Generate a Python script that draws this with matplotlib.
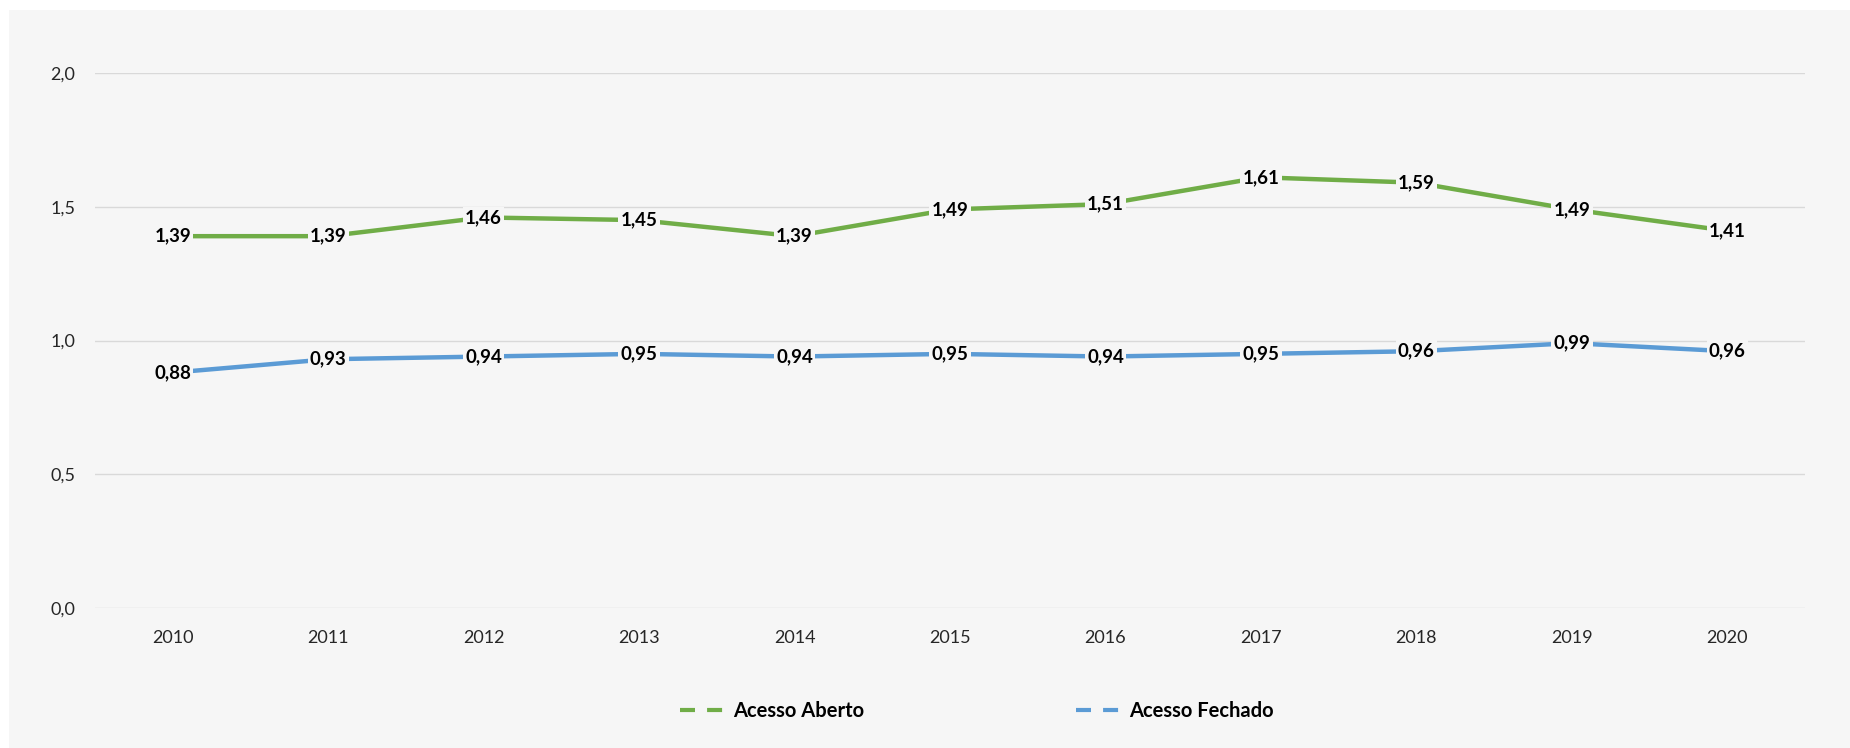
import matplotlib
matplotlib.use('Agg')
import matplotlib.pyplot as plt
from matplotlib.lines import Line2D

anos = ['2010', '2011', '2012', '2013', '2014', '2015', '2016', '2017', '2018', '2019', '2020']
aberto = [1.39, 1.39, 1.46, 1.45, 1.39, 1.49, 1.51, 1.61, 1.59, 1.49, 1.41]
fechado = [0.88, 0.93, 0.94, 0.95, 0.94, 0.95, 0.94, 0.95, 0.96, 0.99, 0.96]
yticks = [0.0, 0.5, 1.0, 1.5, 2.0]

verde = '#70ad47'
azul = '#5b9bd5'
fundo = '#f6f6f6'

plt.rcParams['font.family'] = ['Lato', 'DejaVu Sans']

fig = plt.figure(figsize=(18.5, 7.48), dpi=100)
fig.patch.set_facecolor('white')
# painel cinza claro atras de tudo
fig.patches.append(plt.Rectangle((9/1850, 0), 1 - 9/1850, 1 - 10/748,
                                 transform=fig.transFigure, facecolor=fundo,
                                 edgecolor='none', zorder=-10))

ax = fig.add_axes([95/1850, 1 - 608/748, 1710/1850, 535/748])
ax.set_facecolor(fundo)
ax.patch.set_alpha(0)

x = list(range(len(anos)))
ax.plot(x, aberto, color=verde, lw=3.2, solid_capstyle='butt', zorder=3, clip_on=False)
ax.plot(x, fechado, color=azul, lw=3.2, solid_capstyle='butt', zorder=3, clip_on=False)

for serie in (aberto, fechado):
    for xi, v in zip(x, serie):
        ax.text(xi, v, ('%.2f' % v).replace('.', ','), ha='center', va='center',
                fontsize=13.5, fontweight='bold', color='black', zorder=4,
                bbox=dict(boxstyle='square,pad=0.12', facecolor=fundo, edgecolor='none'))

ax.set_xlim(-0.5, len(anos) - 0.5)
ax.set_ylim(0, 2)
ax.set_xticks(x)
ax.set_xticklabels(anos)
ax.set_yticks(yticks)
ax.set_yticklabels([('%.1f' % t).replace('.', ',') for t in yticks])
ax.tick_params(length=0, labelsize=13, colors='#262626')
ax.tick_params(axis='x', pad=16)
ax.tick_params(axis='y', pad=14)
for s in ax.spines.values():
    s.set_visible(False)
ax.grid(axis='y', color='#d9d9d9', lw=1)
ax.set_axisbelow(True)

handles = [Line2D([], [], color=verde, lw=3, linestyle=(0, (3.6, 2.9))),
           Line2D([], [], color=azul, lw=3, linestyle=(0, (3.6, 2.9)))]
leg = fig.legend(handles, ['Acesso Aberto', 'Acesso Fechado'], loc='center',
                 bbox_to_anchor=(977/1850, 1 - 711/748), ncol=2, frameon=False,
                 handlelength=2.4, handletextpad=0.25, columnspacing=10.5,
                 prop={'weight': 'bold', 'size': 14.5})

fig.savefig('out.png', dpi=100, facecolor=fig.get_facecolor())
